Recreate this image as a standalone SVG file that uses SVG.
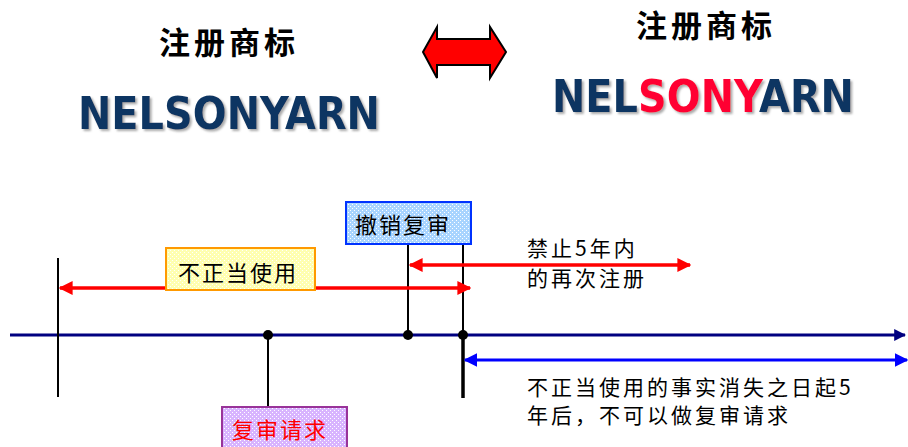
<svg xmlns="http://www.w3.org/2000/svg" width="908" height="447" viewBox="0 0 908 447">
<style>
.title{font-family:"Noto Sans CJK SC","Noto Sans",sans-serif;font-weight:bold;font-size:31px;letter-spacing:4px;fill:#000;text-anchor:middle}
.brand{font-family:"DejaVu Sans","Liberation Sans",sans-serif;font-weight:bold;font-size:44px;fill:#0d3662}
.lbl{font-family:"Noto Sans CJK SC","Noto Sans",sans-serif;font-size:22px;letter-spacing:2px;fill:#000}
.note{font-family:"Noto Sans CJK SC","Noto Sans",sans-serif;font-size:21px;letter-spacing:3px;fill:#000}
.red{stroke:#ff0000;stroke-width:3.5;fill:none}
.blk{stroke:#000;stroke-width:2;fill:none}
</style>
<defs>
<filter id="sh" x="-10%" y="-20%" width="120%" height="140%">
<feDropShadow dx="2" dy="2" stdDeviation="1" flood-color="#888" flood-opacity="0.7"/>
</filter>
<marker id="ar" viewBox="0 0 10 10" refX="9" refY="5" markerWidth="4" markerHeight="4" orient="auto-start-reverse">
<path d="M0,0 L10,5 L0,10 z" fill="#ff0000"/>
</marker>
<marker id="an" viewBox="0 0 10 10" refX="9" refY="5" markerWidth="4" markerHeight="4" orient="auto-start-reverse">
<path d="M0,0 L10,5 L0,10 z" fill="#000080"/>
</marker>
<marker id="ab" viewBox="0 0 10 10" refX="9" refY="5" markerWidth="4.5" markerHeight="4.5" orient="auto-start-reverse">
<path d="M0,0 L10,5 L0,10 z" fill="#0000ff"/>
</marker>
<pattern id="py" width="4" height="4" patternUnits="userSpaceOnUse">
<rect width="4" height="4" fill="#ffffb0"/><rect x="0" y="0" width="1" height="1" fill="#ffffff"/><rect x="2" y="2" width="1" height="1" fill="#ffffff"/>
</pattern>
<pattern id="pb" width="4" height="4" patternUnits="userSpaceOnUse">
<rect width="4" height="4" fill="#a8d4ff"/><rect x="0" y="0" width="1" height="1" fill="#ffffff"/><rect x="2" y="2" width="1" height="1" fill="#ffffff"/>
</pattern>
<pattern id="pp" width="4" height="4" patternUnits="userSpaceOnUse">
<rect width="4" height="4" fill="#d8b4ff"/><rect x="0" y="0" width="1" height="1" fill="#ffffff"/><rect x="2" y="2" width="1" height="1" fill="#ffffff"/>
</pattern>
</defs>
<rect width="908" height="447" fill="#fff"/>

<g id="left-mark">
<text class="title" x="229" y="54">注册商标</text>
<text class="brand" x="78" y="129" textLength="302" lengthAdjust="spacingAndGlyphs" filter="url(#sh)">NELSONYARN</text>
</g>
<g id="right-mark">
<text class="title" x="706" y="37">注册商标</text>
<text class="brand" x="552" y="112" textLength="302" lengthAdjust="spacingAndGlyphs" filter="url(#sh)">NEL<tspan style="fill:#ff0033">SONY</tspan>ARN</text>
</g>
<g id="double-arrow">
<polygon points="423,52 437,27 437,39 490,39 490,27 506,52 490,78 490,65 437,65 437,78" fill="#ff0000" stroke="#000" stroke-width="2" stroke-linejoin="miter"/>
</g>

<g id="connectors">
<line x1="10" y1="335" x2="905" y2="335" stroke="#000080" stroke-width="3" marker-end="url(#an)"/>
<line class="blk" x1="58" y1="258" x2="58" y2="397"/>
<line class="blk" x1="408" y1="241" x2="408" y2="335"/>
<line class="blk" x1="463" y1="245" x2="463" y2="335"/>
<line x1="463" y1="335" x2="463" y2="398" stroke="#000" stroke-width="3.5"/>
<line class="blk" x1="268" y1="335" x2="268" y2="407"/>
<line class="red" x1="60" y1="288" x2="470" y2="288" marker-start="url(#ar)" marker-end="url(#ar)"/>
<line class="red" x1="410" y1="265" x2="690" y2="265" marker-start="url(#ar)" marker-end="url(#ar)"/>
<line x1="465" y1="360" x2="907" y2="360" stroke="#0000ff" stroke-width="3" marker-start="url(#ab)" marker-end="url(#ab)"/>
<circle cx="268" cy="335" r="5" fill="#000"/>
<circle cx="408" cy="335" r="5" fill="#000"/>
<circle cx="463" cy="335" r="5" fill="#000"/>
</g>

<g id="improper-use">
<rect x="166" y="248" width="149" height="42" fill="url(#py)" stroke="#ff9900" stroke-width="2"/>
<text class="lbl" x="178" y="281">不正当使用</text>
</g>
<g id="revoke-review">
<rect x="346" y="202" width="125" height="42" fill="url(#pb)" stroke="#0033ff" stroke-width="2"/>
<text class="lbl" x="355" y="233">撤销复审</text>
</g>
<g id="review-request">
<rect x="222" y="407" width="125" height="42" fill="url(#pp)" stroke="#993399" stroke-width="2"/>
<text class="lbl" x="232" y="438" style="fill:#ff0000">复审请求</text>
</g>
<g id="note-5yr">
<text class="note" x="527" y="256">禁止5年内</text>
<text class="note" x="527" y="286">的再次注册</text>
</g>
<g id="note-bottom">
<text class="note" x="527" y="395">不正当使用的事实消失之日起5</text>
<text class="note" x="527" y="423">年后，不可以做复审请求</text>
</g>
</svg>
